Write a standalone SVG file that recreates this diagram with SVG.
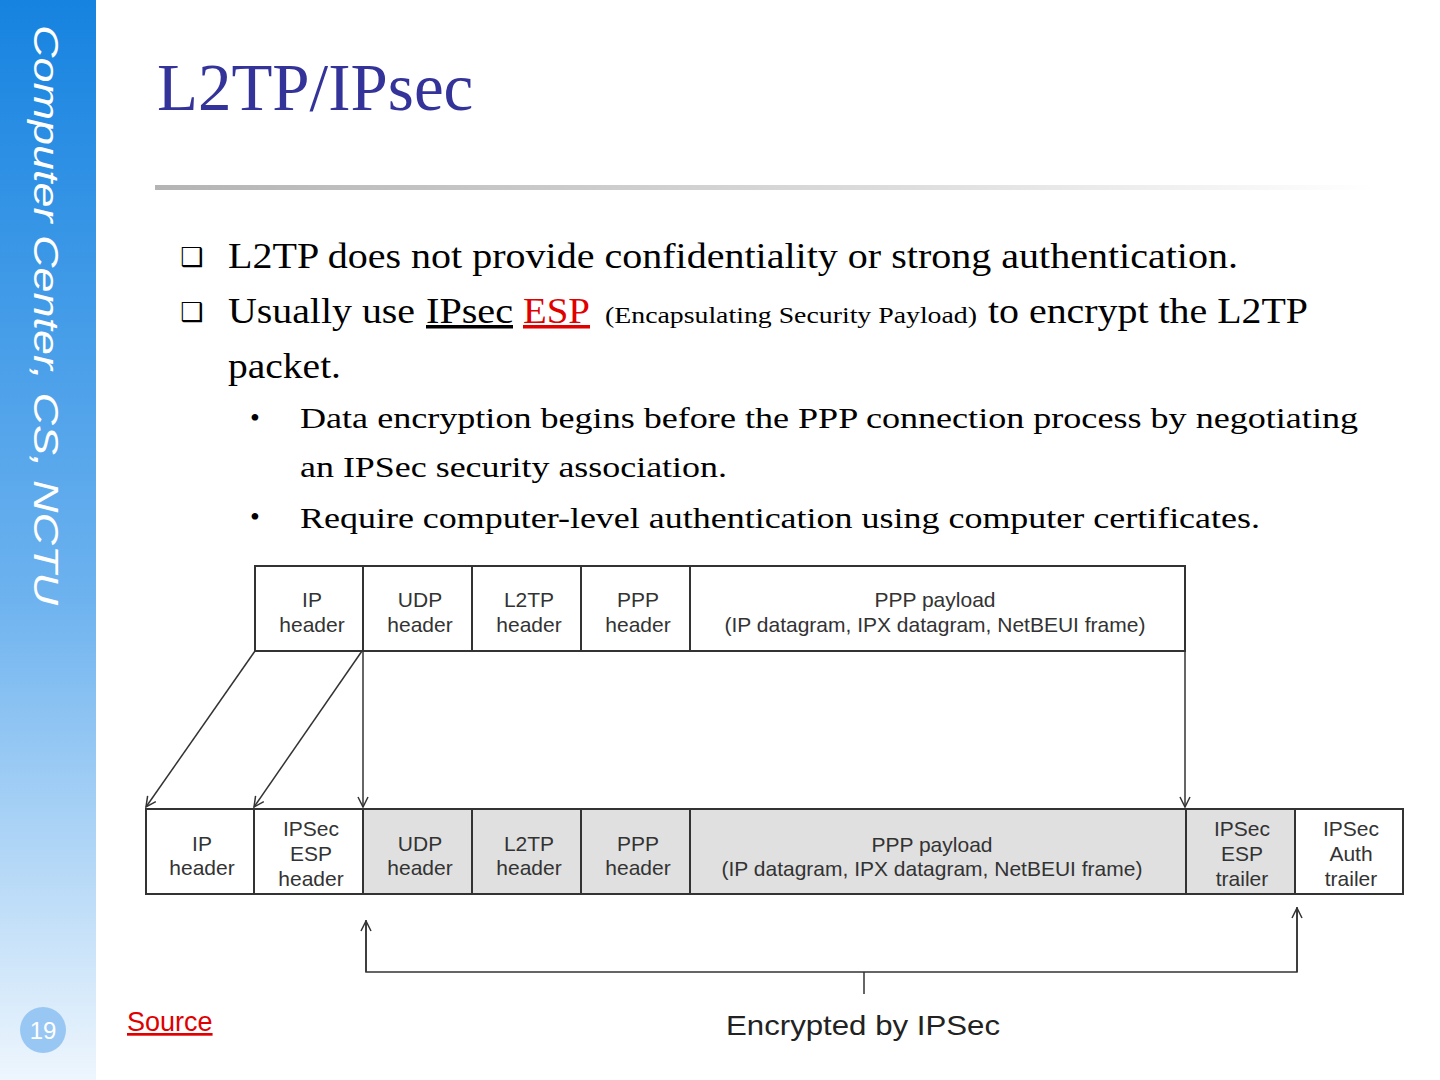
<svg xmlns="http://www.w3.org/2000/svg" width="1440" height="1080" viewBox="0 0 1440 1080">
<defs>
<linearGradient id="side" x1="0" y1="0" x2="0" y2="1">
<stop offset="0" stop-color="#1683e0"/>
<stop offset="0.55" stop-color="#6cb2ef"/>
<stop offset="1" stop-color="#eef6fd"/>
</linearGradient>
<linearGradient id="rule" x1="0" y1="0" x2="1" y2="0">
<stop offset="0" stop-color="#b4b4b4"/>
<stop offset="0.6" stop-color="#dcdcdc"/>
<stop offset="1" stop-color="#ffffff"/>
</linearGradient>
<marker id="ah" viewBox="0 0 12 12" refX="11" refY="6" markerWidth="12" markerHeight="12" markerUnits="userSpaceOnUse" orient="auto">
<path d="M1,1 L11,6 L1,11" fill="none" stroke="#333" stroke-width="1.5"/>
</marker>
<style>
.box{fill:#fff;stroke:#333;stroke-width:2}
.gbox{fill:#e0e0e0;stroke:#333;stroke-width:2}
.lbl{font-family:"Liberation Sans",Arial,sans-serif;font-size:21px;fill:#333;text-anchor:middle}
.body{font-family:"Liberation Serif","Times New Roman",serif;fill:#000}
.con{stroke:#333;stroke-width:1.5;fill:none}
</style>
</defs>
<rect x="0" y="0" width="1440" height="1080" fill="#fff"/>
<rect x="0" y="0" width="96" height="1080" fill="url(#side)"/>
<text transform="translate(34,25) rotate(90)" font-family="'Liberation Sans',Arial,sans-serif" font-style="italic" font-size="35" fill="#fff" textLength="580" lengthAdjust="spacingAndGlyphs">Computer Center, CS, NCTU</text>
<circle cx="43" cy="1030" r="23" fill="#99c7f4"/>
<text x="43" y="1039" font-family="'Liberation Sans',Arial,sans-serif" font-size="24" fill="#fff" text-anchor="middle">19</text>

<text x="157" y="110" font-family="'Liberation Serif','Times New Roman',serif" font-size="67" fill="#333399">L2TP/IPsec</text>
<rect x="155" y="185" width="1220" height="5" fill="url(#rule)"/>

<g class="body">
<text x="180" y="266" font-size="26" font-family="'DejaVu Sans',sans-serif">❑</text>
<text x="228" y="268" font-size="35" textLength="1010" lengthAdjust="spacingAndGlyphs">L2TP does not provide confidentiality or strong authentication.</text>
<text x="180" y="321" font-size="26" font-family="'DejaVu Sans',sans-serif">❑</text>
<text x="228" y="323" font-size="35" textLength="187" lengthAdjust="spacingAndGlyphs">Usually use</text>
<text x="426" y="323" font-size="35" text-decoration="underline" textLength="87" lengthAdjust="spacingAndGlyphs">IPsec</text>
<text x="523" y="323" font-size="35" fill="#e00000" text-decoration="underline" textLength="67" lengthAdjust="spacingAndGlyphs">ESP</text>
<text x="605" y="323" font-size="23" textLength="372" lengthAdjust="spacingAndGlyphs">(Encapsulating Security Payload)</text>
<text x="988" y="323" font-size="35" textLength="320" lengthAdjust="spacingAndGlyphs">to encrypt the L2TP</text>
<text x="228" y="378" font-size="35" textLength="113" lengthAdjust="spacingAndGlyphs">packet.</text>
<text x="250" y="427" font-size="28">•</text>
<text x="300" y="428" font-size="30" textLength="1058" lengthAdjust="spacingAndGlyphs">Data encryption begins before the PPP connection process by negotiating</text>
<text x="300" y="477" font-size="30" textLength="427" lengthAdjust="spacingAndGlyphs">an IPSec security association.</text>
<text x="250" y="526" font-size="28">•</text>
<text x="300" y="528" font-size="30" textLength="960" lengthAdjust="spacingAndGlyphs">Require computer-level authentication using computer certificates.</text>
</g>

<g id="top-row">
<g id="t-ip"><rect class="box" x="255" y="566" width="108" height="85"/><text class="lbl" x="312" y="607">IP</text><text class="lbl" x="312" y="632">header</text></g>
<g id="t-udp"><rect class="box" x="363" y="566" width="109" height="85"/><text class="lbl" x="420" y="607">UDP</text><text class="lbl" x="420" y="632">header</text></g>
<g id="t-l2tp"><rect class="box" x="472" y="566" width="109" height="85"/><text class="lbl" x="529" y="607">L2TP</text><text class="lbl" x="529" y="632">header</text></g>
<g id="t-ppp"><rect class="box" x="581" y="566" width="109" height="85"/><text class="lbl" x="638" y="607">PPP</text><text class="lbl" x="638" y="632">header</text></g>
<g id="t-payload"><rect class="box" x="690" y="566" width="495" height="85"/><text class="lbl" x="935" y="607">PPP payload</text><text class="lbl" x="935" y="632">(IP datagram, IPX datagram, NetBEUI frame)</text></g>
</g>

<g id="bottom-row">
<g id="b-ip"><rect class="box" x="146" y="809" width="108" height="85"/><text class="lbl" x="202" y="851">IP</text><text class="lbl" x="202" y="875">header</text></g>
<g id="b-esph"><rect class="box" x="254" y="809" width="109" height="85"/><text class="lbl" x="311" y="836">IPSec</text><text class="lbl" x="311" y="861">ESP</text><text class="lbl" x="311" y="886">header</text></g>
<g id="b-udp"><rect class="gbox" x="363" y="809" width="109" height="85"/><text class="lbl" x="420" y="851">UDP</text><text class="lbl" x="420" y="875">header</text></g>
<g id="b-l2tp"><rect class="gbox" x="472" y="809" width="109" height="85"/><text class="lbl" x="529" y="851">L2TP</text><text class="lbl" x="529" y="875">header</text></g>
<g id="b-ppp"><rect class="gbox" x="581" y="809" width="109" height="85"/><text class="lbl" x="638" y="851">PPP</text><text class="lbl" x="638" y="875">header</text></g>
<g id="b-payload"><rect class="gbox" x="690" y="809" width="496" height="85"/><text class="lbl" x="932" y="852">PPP payload</text><text class="lbl" x="932" y="876">(IP datagram, IPX datagram, NetBEUI frame)</text></g>
<g id="b-espt"><rect class="gbox" x="1186" y="809" width="109" height="85"/><text class="lbl" x="1242" y="836">IPSec</text><text class="lbl" x="1242" y="861">ESP</text><text class="lbl" x="1242" y="886">trailer</text></g>
<g id="b-auth"><rect class="box" x="1295" y="809" width="108" height="85"/><text class="lbl" x="1351" y="836">IPSec</text><text class="lbl" x="1351" y="861">Auth</text><text class="lbl" x="1351" y="886">trailer</text></g>
</g>

<g id="connectors">
<line class="con" x1="255" y1="651" x2="146" y2="807" marker-end="url(#ah)"/>
<line class="con" x1="362" y1="651" x2="254" y2="807" marker-end="url(#ah)"/>
<line class="con" x1="363" y1="651" x2="363" y2="807" marker-end="url(#ah)"/>
<line class="con" x1="1185" y1="651" x2="1185" y2="807" marker-end="url(#ah)"/>
<polyline class="con" points="366,920 366,972 1297,972 1297,907"/>
<line class="con" x1="366" y1="972" x2="366" y2="921" marker-end="url(#ah)"/>
<line class="con" x1="1297" y1="972" x2="1297" y2="908" marker-end="url(#ah)"/>
<line class="con" x1="864" y1="972" x2="864" y2="994"/>
</g>
<text x="726" y="1035" font-family="'Liberation Sans',Arial,sans-serif" font-size="28" fill="#222" textLength="274" lengthAdjust="spacingAndGlyphs">Encrypted by IPSec</text>
<text x="127" y="1031" font-family="'Liberation Sans',Arial,sans-serif" font-size="27" fill="#e00000" text-decoration="underline">Source</text>
</svg>
